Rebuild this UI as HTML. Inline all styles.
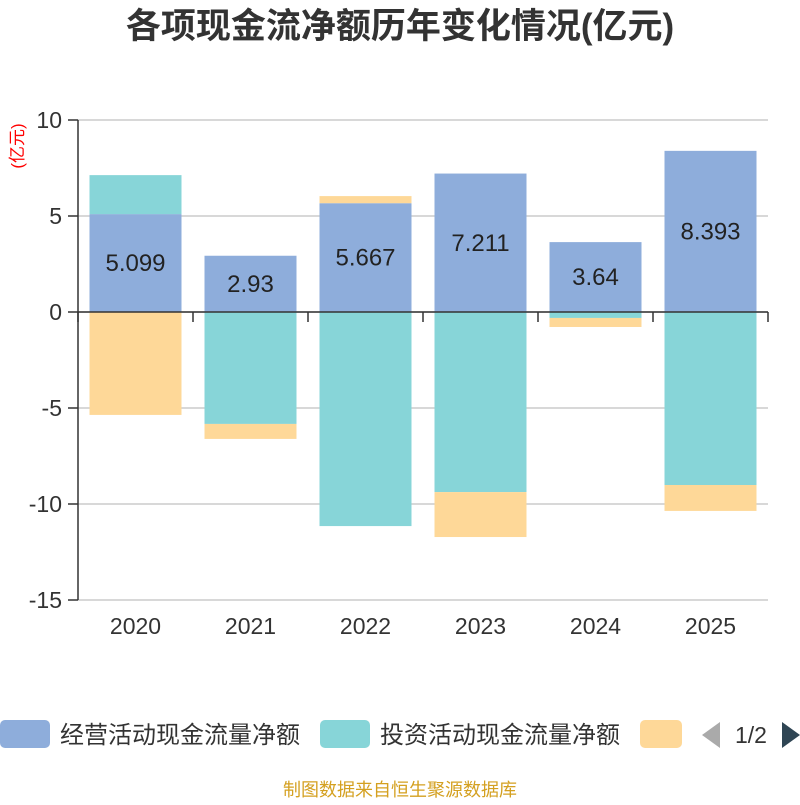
<!DOCTYPE html>
<html><head><meta charset="utf-8"><style>
body{margin:0;background:#fff;}
svg text{font-family:"Liberation Sans","Noto Sans CJK SC",sans-serif;}
</style></head><body>
<svg width="800" height="800" xmlns="http://www.w3.org/2000/svg">
<text x="400" y="38" text-anchor="middle" font-size="35" font-weight="bold" fill="#333">各项现金流净额历年变化情况(亿元)</text>
<text transform="translate(23,146) rotate(-90)" text-anchor="middle" font-size="17" fill="#f00">(亿元)</text>
<g id="grid"></g><g id="bars"></g><g id="axes"></g>
<g>
<rect x="0" y="720" width="50" height="28" rx="5" fill="#8eaddb"/>
<text x="60" y="743" font-size="24" fill="#333">经营活动现金流量净额</text>
<rect x="320" y="720" width="50" height="28" rx="5" fill="#87d5d8"/>
<text x="380" y="743" font-size="24" fill="#333">投资活动现金流量净额</text>
<rect x="640" y="720" width="42" height="28" rx="5" fill="#fed898"/>
<path d="M720 722 L702 735 L720 748 Z" fill="#aaa"/>
<text x="751" y="743" text-anchor="middle" font-size="23" fill="#333">1/2</text>
<path d="M782 722 L800 735 L782 748 Z" fill="#2f4554"/>
</g>
<text x="400" y="796" text-anchor="middle" font-size="18" fill="#d4a020">制图数据来自恒生聚源数据库</text>
</svg>
<script>
const categories=["2020","2021","2022","2023","2024","2025"];
const operating=[5.099,2.93,5.667,7.211,3.64,8.393];
const investing=[2.03,-5.83,-11.15,-9.38,-0.31,-9.01];
const financing=[-5.36,-0.78,0.37,-2.34,-0.47,-1.35];
const yTicks=[10,5,0,-5,-10,-15];
const NS="http://www.w3.org/2000/svg";
const x0=78,x1=768,yTop=120,yBot=600,vMax=10,vMin=-15;
const y=v=>yTop+(vMax-v)/(vMax-vMin)*(yBot-yTop);
const band=(x1-x0)/categories.length;
const bw=92;
function mk(t,a,p){const e=document.createElementNS(NS,t);for(const k in a)e.setAttribute(k,a[k]);p.appendChild(e);return e;}
const grid=document.getElementById('grid'),bars=document.getElementById('bars'),axes=document.getElementById('axes');
yTicks.forEach(v=>{
 const l=mk('line',{x1:x0,x2:x1,y1:y(v),y2:y(v),stroke:'#ccc','stroke-width':1.5},grid);
 
 
 const tk=mk('line',{x1:x0-10,x2:x0,y1:y(v),y2:y(v),stroke:'#333','stroke-width':1.5},axes);
 
 
 const t=mk('text',{x:x0-16,y:y(v)+8,'text-anchor':'end','font-size':23,fill:'#333'},axes);
 t.textContent=v;
 
 
});
const series=[[operating,'#8eaddb','operating'],[investing,'#87d5d8','investing'],[financing,'#fed898','financing']];
categories.forEach((c,i)=>{
 const cx=x0+band*(i+0.5);let pos=0,neg=0;
 series.forEach(([arr,col,nm])=>{
  const v=arr[i];let a,b;
  if(v>=0){a=pos;b=pos+v;pos=b;}else{a=neg;b=neg+v;neg=b;}
  const r=mk('rect',{x:cx-bw/2,width:bw,y:Math.min(y(a),y(b)),height:Math.abs(y(a)-y(b)),fill:col},bars);
  
  
 });
 const lb=mk('text',{x:cx,y:y(operating[i]/2)+8,'text-anchor':'middle','font-size':24,fill:'#222'},bars);
 lb.textContent=operating[i];
 
 
 const xt=mk('text',{x:cx,y:634,'text-anchor':'middle','font-size':23,fill:'#333'},axes);
 xt.textContent=c;
 
 
});
for(let i=0;i<=categories.length;i++){
 const tx=x0+band*i;
 const t=mk('line',{x1:tx,x2:tx,y1:y(0),y2:y(0)+10,stroke:'#333','stroke-width':1.5},axes);
 
 
}
const xa=mk('line',{x1:x0,x2:x1,y1:y(0),y2:y(0),stroke:'#333','stroke-width':1.5},axes);


const ya=mk('line',{x1:x0,x2:x0,y1:yTop,y2:yBot,stroke:'#333','stroke-width':1.5},axes);


</script>
</body></html>
